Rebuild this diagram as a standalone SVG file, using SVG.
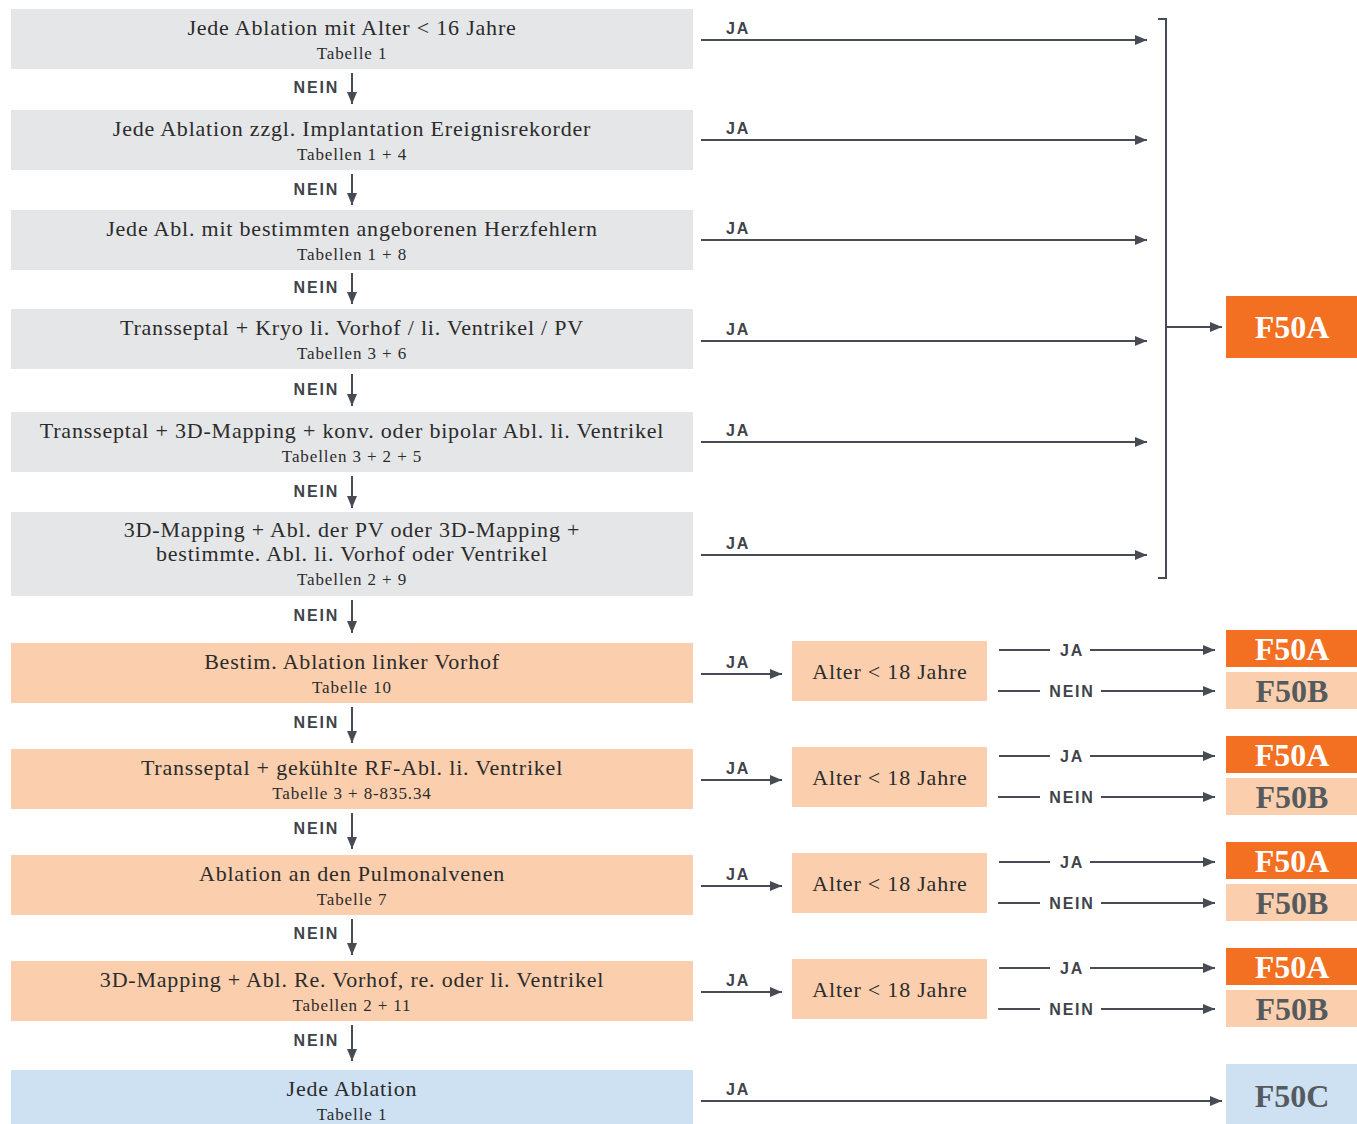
<svg xmlns="http://www.w3.org/2000/svg" width="1357" height="1124" viewBox="0 0 1357 1124">
<style>
.gray{fill:#e5e6e8}.peach{fill:#fbcfad}.org{fill:#f36f21}.blue{fill:#cde1f2}
.t{font-family:"Liberation Serif",serif;font-size:22px;letter-spacing:0.8px;fill:#2b2b2b;text-anchor:middle}
.s{font-family:"Liberation Serif",serif;font-size:17px;letter-spacing:0.9px;fill:#2b2b2b;text-anchor:middle}
.l{font-family:"Liberation Sans",sans-serif;font-size:16px;font-weight:bold;fill:#3f434a;letter-spacing:1.8px}
.c{text-anchor:middle}
.r{text-anchor:end}
.big{font-family:"Liberation Serif",serif;font-size:32px;font-weight:bold;text-anchor:middle}
.w{fill:#ffffff}.g{fill:#555a5f}
.ln{stroke:#474b53;stroke-width:2;fill:none}
</style>
<defs>
<marker id="ah" viewBox="0 0 12 10" refX="12" refY="5" markerWidth="12" markerHeight="10" markerUnits="userSpaceOnUse" orient="auto">
<path d="M0,0 L12,5 L0,10 Z" fill="#474b53"/>
</marker>
</defs>

<g id="n1"><rect class="gray" x="11" y="9" width="682" height="60"/><text class="t" x="352" y="35">Jede Ablation mit Alter &lt; 16 Jahre</text><text class="s" x="352" y="59">Tabelle 1</text></g>
<g id="n2"><rect class="gray" x="11" y="110" width="682" height="60"/><text class="t" x="352" y="136">Jede Ablation zzgl. Implantation Ereignisrekorder</text><text class="s" x="352" y="160">Tabellen 1 + 4</text></g>
<g id="n3"><rect class="gray" x="11" y="210" width="682" height="60"/><text class="t" x="352" y="236">Jede Abl. mit bestimmten angeborenen Herzfehlern</text><text class="s" x="352" y="260">Tabellen 1 + 8</text></g>
<g id="n4"><rect class="gray" x="11" y="309" width="682" height="60"/><text class="t" x="352" y="335">Transseptal + Kryo li. Vorhof / li. Ventrikel / PV</text><text class="s" x="352" y="359">Tabellen 3 + 6</text></g>
<g id="n5"><rect class="gray" x="11" y="412" width="682" height="60"/><text class="t" x="352" y="438">Transseptal + 3D-Mapping + konv. oder bipolar Abl. li. Ventrikel</text><text class="s" x="352" y="462">Tabellen 3 + 2 + 5</text></g>
<g id="n6"><rect class="gray" x="11" y="512" width="682" height="84"/><text class="t" x="352" y="537">3D-Mapping + Abl. der PV oder 3D-Mapping +</text><text class="t" x="352" y="561">bestimmte. Abl. li. Vorhof oder Ventrikel</text><text class="s" x="352" y="585">Tabellen 2 + 9</text></g>
<g id="n7"><rect class="peach" x="11" y="643" width="682" height="60"/><text class="t" x="352" y="669">Bestim. Ablation linker Vorhof</text><text class="s" x="352" y="693">Tabelle 10</text></g>
<g id="n8"><rect class="peach" x="11" y="749" width="682" height="60"/><text class="t" x="352" y="775">Transseptal + gekühlte RF-Abl. li. Ventrikel</text><text class="s" x="352" y="799">Tabelle 3 + 8-835.34</text></g>
<g id="n9"><rect class="peach" x="11" y="855" width="682" height="60"/><text class="t" x="352" y="881">Ablation an den Pulmonalvenen</text><text class="s" x="352" y="905">Tabelle 7</text></g>
<g id="n10"><rect class="peach" x="11" y="961" width="682" height="60"/><text class="t" x="352" y="987">3D-Mapping + Abl. Re. Vorhof, re. oder li. Ventrikel</text><text class="s" x="352" y="1011">Tabellen 2 + 11</text></g>
<g id="n11"><rect class="blue" x="11" y="1070" width="682" height="54"/><text class="t" x="352" y="1096">Jede Ablation</text><text class="s" x="352" y="1120">Tabelle 1</text></g>

<g id="a1"><rect class="peach" x="792" y="641" width="195" height="60"/><text class="t" x="890" y="679">Alter &lt; 18 Jahre</text></g>
<g id="a2"><rect class="peach" x="792" y="747" width="195" height="60"/><text class="t" x="890" y="785">Alter &lt; 18 Jahre</text></g>
<g id="a3"><rect class="peach" x="792" y="853" width="195" height="60"/><text class="t" x="890" y="891">Alter &lt; 18 Jahre</text></g>
<g id="a4"><rect class="peach" x="792" y="959" width="195" height="60"/><text class="t" x="890" y="997">Alter &lt; 18 Jahre</text></g>

<g id="r0"><rect class="org" x="1226" y="296" width="131" height="62"/><text class="big w" x="1292" y="338">F50A</text></g>
<g id="r1a"><rect class="org" x="1226" y="630" width="131" height="37"/><text class="big w" x="1292" y="660">F50A</text></g>
<g id="r1b"><rect class="peach" x="1226" y="672" width="131" height="37"/><text class="big g" x="1292" y="702">F50B</text></g>
<g id="r2a"><rect class="org" x="1226" y="736" width="131" height="37"/><text class="big w" x="1292" y="766">F50A</text></g>
<g id="r2b"><rect class="peach" x="1226" y="778" width="131" height="37"/><text class="big g" x="1292" y="808">F50B</text></g>
<g id="r3a"><rect class="org" x="1226" y="842" width="131" height="37"/><text class="big w" x="1292" y="872">F50A</text></g>
<g id="r3b"><rect class="peach" x="1226" y="884" width="131" height="37"/><text class="big g" x="1292" y="914">F50B</text></g>
<g id="r4a"><rect class="org" x="1226" y="948" width="131" height="37"/><text class="big w" x="1292" y="978">F50A</text></g>
<g id="r4b"><rect class="peach" x="1226" y="990" width="131" height="37"/><text class="big g" x="1292" y="1020">F50B</text></g>
<g id="r5"><rect class="blue" x="1226" y="1064" width="131" height="60"/><text class="big g" x="1292" y="1107">F50C</text></g>

<g id="connectors">
<g class="ln" marker-end="url(#ah)">
<path d="M352,73 V104"/>
<path d="M352,174 V205"/>
<path d="M352,273 V304"/>
<path d="M352,374 V406"/>
<path d="M352,476 V508"/>
<path d="M352,600 V633"/>
<path d="M352,707 V743"/>
<path d="M352,813 V849"/>
<path d="M352,919 V955"/>
<path d="M352,1025 V1061"/>
<path d="M701,40 H1147"/>
<path d="M701,140 H1147"/>
<path d="M701,240 H1147"/>
<path d="M701,341 H1147"/>
<path d="M701,442 H1147"/>
<path d="M701,555 H1147"/>
<path d="M1166,327 H1222"/>
<path d="M701,674 H782"/>
<path d="M701,780 H782"/>
<path d="M701,886 H782"/>
<path d="M701,992 H782"/>
<path d="M1090,650 H1215"/>
<path d="M1101,691 H1215"/>
<path d="M1090,756 H1215"/>
<path d="M1101,797 H1215"/>
<path d="M1090,862 H1215"/>
<path d="M1101,903 H1215"/>
<path d="M1090,968 H1215"/>
<path d="M1101,1009 H1215"/>
<path d="M701,1101 H1222"/>
</g>
<path class="ln" d="M1158,19 H1166 V578 H1158"/>
<g class="ln">
<path d="M999,650 H1050"/><path d="M998,691 H1040"/>
<path d="M999,756 H1050"/><path d="M998,797 H1040"/>
<path d="M999,862 H1050"/><path d="M998,903 H1040"/>
<path d="M999,968 H1050"/><path d="M998,1009 H1040"/>
</g>
<g class="l">
<text class="r" x="339" y="93">NEIN</text>
<text class="r" x="339" y="195">NEIN</text>
<text class="r" x="339" y="293">NEIN</text>
<text class="r" x="339" y="395">NEIN</text>
<text class="r" x="339" y="497">NEIN</text>
<text class="r" x="339" y="621">NEIN</text>
<text class="r" x="339" y="728">NEIN</text>
<text class="r" x="339" y="834">NEIN</text>
<text class="r" x="339" y="939">NEIN</text>
<text class="r" x="339" y="1046">NEIN</text>
<text x="726" y="34">JA</text>
<text x="726" y="134">JA</text>
<text x="726" y="234">JA</text>
<text x="726" y="335">JA</text>
<text x="726" y="436">JA</text>
<text x="726" y="549">JA</text>
<text x="726" y="668">JA</text>
<text x="726" y="774">JA</text>
<text x="726" y="880">JA</text>
<text x="726" y="986">JA</text>
<text x="726" y="1095">JA</text>
<text class="c" x="1072" y="656">JA</text>
<text class="c" x="1072" y="697">NEIN</text>
<text class="c" x="1072" y="762">JA</text>
<text class="c" x="1072" y="803">NEIN</text>
<text class="c" x="1072" y="868">JA</text>
<text class="c" x="1072" y="909">NEIN</text>
<text class="c" x="1072" y="974">JA</text>
<text class="c" x="1072" y="1015">NEIN</text>
</g>
</g>
</svg>
